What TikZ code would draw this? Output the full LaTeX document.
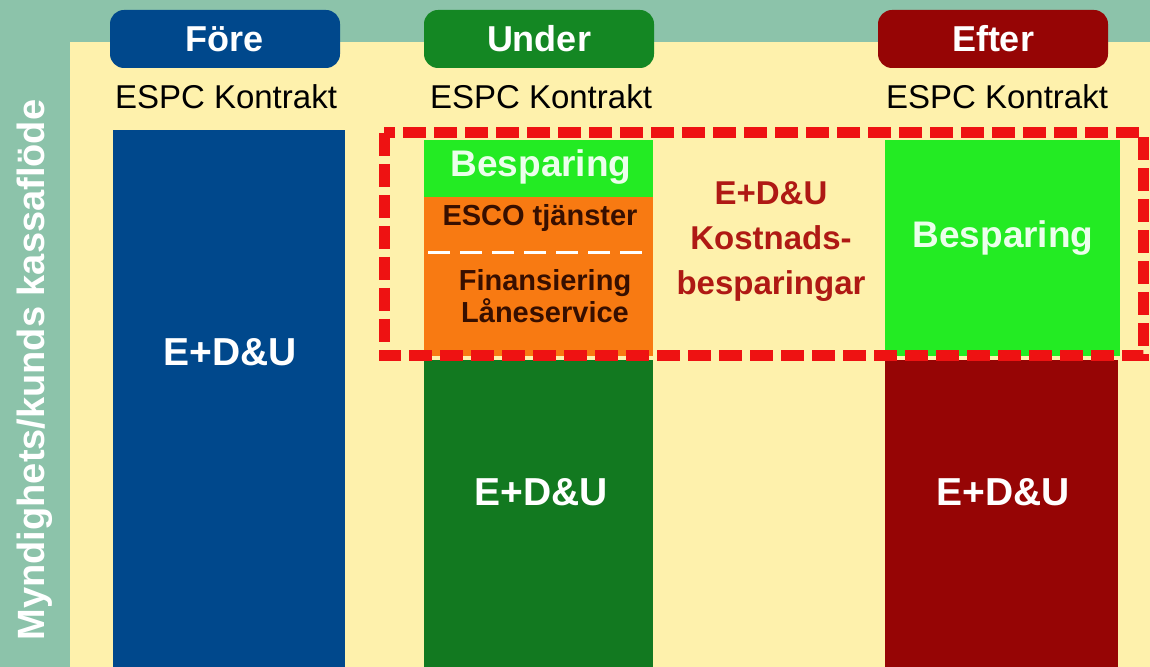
\documentclass[tikz,border=0pt]{standalone}
\usepackage{fontspec}
\setmainfont{Liberation Sans}
\usetikzlibrary{positioning}
\definecolor{frame}{RGB}{140, 195, 170}
\definecolor{panel}{RGB}{254, 241, 172}
\definecolor{fore}{RGB}{0, 72, 140}
\definecolor{under}{RGB}{20, 135, 35}
\definecolor{efter}{RGB}{150, 5, 5}
\definecolor{saving}{RGB}{35, 235, 35}
\definecolor{esco}{RGB}{248, 122, 18}
\definecolor{dashred}{RGB}{238, 18, 18}
\definecolor{costtext}{RGB}{175, 25, 20}
\definecolor{escotext}{RGB}{55, 15, 0}

\begin{document}
\begin{tikzpicture}[
    x=0.5pt, y=-0.5pt,
    header/.style={rectangle, rounded corners=7pt, minimum width=115pt, minimum height=29pt,
                   inner sep=0pt, text=white, font=\fontsize{18}{20}\selectfont\bfseries},
    contract/.style={font=\fontsize{16.5}{18}\selectfont, text=black},
    column/.style={rectangle, anchor=north west, inner sep=0pt},
    colabel/.style={text=white, font=\fontsize{19.5}{22}\selectfont\bfseries},
    savelabel/.style={text=green!8, font=\fontsize{18.5}{22}\selectfont\bfseries},
    escolabel/.style={text=escotext, align=center, font=\fontsize{14.5}{14}\selectfont\bfseries}
]
\useasboundingbox (0,0) rectangle (1150,667);

% Background and panel
\fill[frame] (0,0) rectangle (1150,667);
\fill[panel] (70,42) rectangle (1150,667);

% Headers
\node[header, fill=fore] (foreH) at (225,39) {Före};
\node[header, fill=under] (underH) at (539,39) {Under};
\node[header, fill=efter] (efterH) at (993,39) {Efter};

\node[contract] (foreC) at (226,97) {ESPC Kontrakt};
\node[contract] (underC) at (541,97) {ESPC Kontrakt};
\node[contract] (efterC) at (997,97) {ESPC Kontrakt};

% Före column
\node[column, fill=fore, minimum width=116pt, minimum height=268.5pt] (foreCol) at (113,130) {};
\node[colabel] (foreL) at (230,352) {E+D\&U};

% Under column
\node[column, fill=saving, minimum width=114.5pt, minimum height=28.5pt] (underSave) at (424,140) {};
\node[savelabel] (underSaveL) at (541,167) {Besparing};
\node[column, fill=esco, minimum width=114.5pt, minimum height=27.5pt] (escoBox) at (424,197) {};
\node[column, fill=esco, minimum width=114.5pt, minimum height=52pt] (finBox) at (424,252) {};
\draw[white, line width=1.5pt, dash pattern=on 11pt off 5pt, shorten <=2pt, shorten >=2pt]
      (escoBox.south west) -- (escoBox.south east);
\node[escolabel] (escoL) at (540,218) {ESCO tjänster};
\node[escolabel] (finL) at (545,296) {Finansiering\\Låneservice};
\node[column, fill=under!90!black, minimum width=114.5pt, minimum height=153.5pt] (underCol) at (424,360) {};
\node[colabel] (underL) at (541,492) {E+D\&U};

% Efter column
\node[column, fill=saving, minimum width=117.5pt, minimum height=108pt] (efterSave) at (885,140) {};
\node[savelabel] (efterSaveL) at (1003,238) {Besparing};
\node[column, fill=efter, minimum width=116.5pt, minimum height=153.5pt] (efterCol) at (885,360) {};
\node[colabel] (efterL) at (1003,492) {E+D\&U};

% Cost savings text
\node[text=costtext, align=center, font=\fontsize{16.5}{22.5}\selectfont\bfseries] (costL) at (771,242)
      {E+D\&U\\Kostnads-\\besparingar};

% Red dashed frame
\draw[dashred, line width=5.5pt, dash pattern=on 11.5pt off 4pt] (384,133) rectangle (1143,356);

% Side axis label
\node[rotate=90, text=white, font=\fontsize{19}{22}\selectfont\bfseries] (axisL) at (35,370)
      {Myndighets/kunds kassaflöde};

\end{tikzpicture}
\end{document}
